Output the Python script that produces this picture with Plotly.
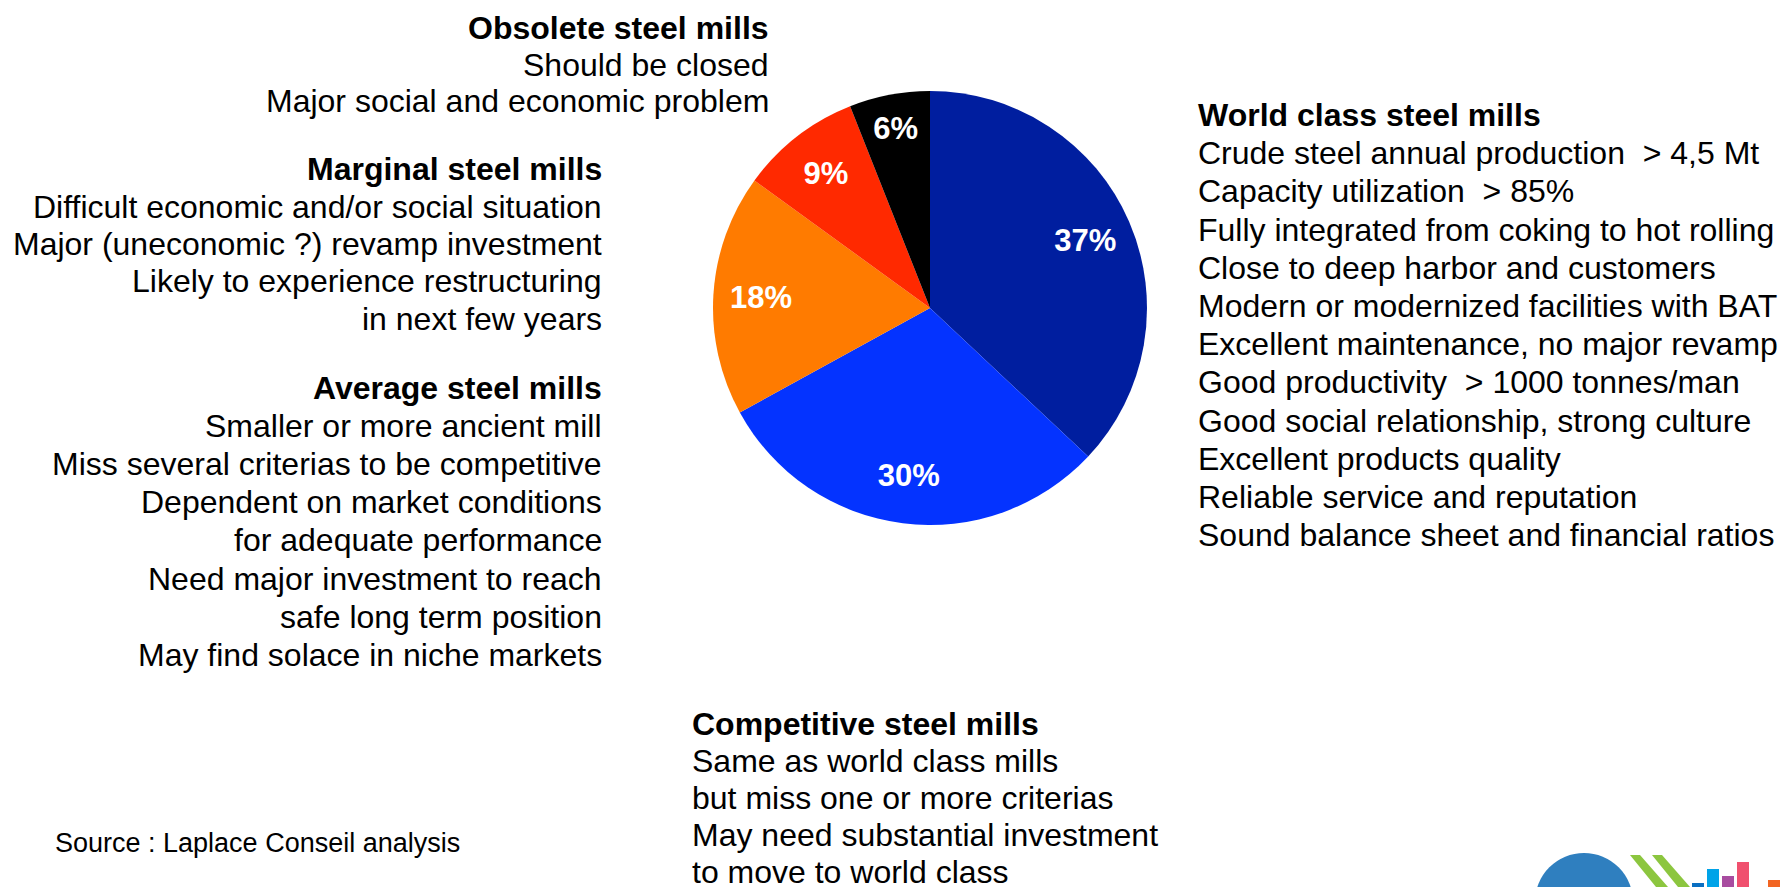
import plotly.graph_objects as go

# pie data (clockwise from 12 o'clock)
segments = ["World class", "Competitive", "Average", "Marginal", "Obsolete"]
shares = [37, 30, 18, 9, 6]
colors = ["#001E9F", "#0433FF", "#FF7B00", "#FF2900", "#000000"]

# text blocks next to the pie
obsolete_lines = ["<b>Obsolete steel mills</b>", "Should be closed",
                  "Major social and economic problem"]
marginal_lines = ["<b>Marginal steel mills</b>",
                  "Difficult economic and/or social situation",
                  "Major (uneconomic ?) revamp investment",
                  "Likely to experience restructuring",
                  "in next few years"]
average_lines = ["<b>Average steel mills</b>",
                 "Smaller or more ancient mill",
                 "Miss several criterias to be competitive",
                 "Dependent on market conditions",
                 "for adequate performance",
                 "Need major investment to reach",
                 "safe long term position",
                 "May find solace in niche markets"]
world_lines = ["<b>World class steel mills</b>",
               "Crude steel annual production  > 4,5 Mt",
               "Capacity utilization  > 85%",
               "Fully integrated from coking to hot rolling",
               "Close to deep harbor and customers",
               "Modern or modernized facilities with BAT",
               "Excellent maintenance, no major revamp",
               "Good productivity  > 1000 tonnes/man",
               "Good social relationship, strong culture",
               "Excellent products quality",
               "Reliable service and reputation",
               "Sound balance sheet and financial ratios"]
competitive_lines = ["<b>Competitive steel mills</b>",
                     "Same as world class mills",
                     "but miss one or more criterias",
                     "May need substantial investment",
                     "to move to world class"]
source_text = "Source : Laplace Conseil analysis"

W, H = 1780, 887
FONT = "Liberation Sans, Arial, sans-serif"


def px(x):
    return x / W


def py(y):
    return 1 - y / H


cx, cy, r = 930, 308, 217
pie_domain = dict(x=[px(cx - r), px(cx + r)], y=[py(cy + r), py(cy - r)])

fig = go.Figure()
# coloured slices
fig.add_trace(go.Pie(
    labels=segments, values=shares, sort=False, direction="clockwise",
    marker=dict(colors=colors, line=dict(width=0)),
    textinfo="none", hoverinfo="label+percent", showlegend=False,
    domain=pie_domain,
))
# same data as a transparent ring, so the labels sit out towards the rim
fig.add_trace(go.Pie(
    labels=segments, values=shares, sort=False, direction="clockwise",
    hole=0.56, marker=dict(colors=["rgba(0,0,0,0)"] * len(shares),
                           line=dict(width=0)),
    texttemplate="<b>%{value}%</b>", textposition="inside",
    insidetextorientation="horizontal",
    textfont=dict(family=FONT, size=31, color="white"),
    hoverinfo="skip", showlegend=False, domain=pie_domain,
))


def add_block(lines, x, y0, step, anchor, size=32):
    for i, line in enumerate(lines):
        fig.add_annotation(
            text=line, x=px(x), y=py(y0 + i * step),
            xref="paper", yref="paper", xanchor=anchor, yanchor="middle",
            showarrow=False, align=anchor,
            font=dict(family=FONT, size=size, color="black"))


add_block(obsolete_lines, 771, 28, 36.5, "right")
add_block(marginal_lines, 604, 169, 37.5, "right")
add_block(average_lines, 604, 388, 38.1, "right")
add_block(world_lines, 1196, 115, 38.2, "left")
add_block(competitive_lines, 690, 724, 37, "left")
add_block([source_text], 53, 843, 0, "left", size=27)

# partial logo in bottom right corner
fig.add_shape(type="circle", xref="paper", yref="paper",
              x0=px(1535), x1=px(1633), y0=py(951), y1=py(853),
              fillcolor="#2F7FBF", line=dict(width=0))
for dx in [0, 22]:
    fig.add_shape(type="path", xref="paper", yref="paper",
                  path=f"M {px(1630 + dx)} {py(855)} L {px(1640 + dx)} {py(855)} "
                       f"L {px(1668 + dx)} {py(887)} L {px(1656 + dx)} {py(887)} Z",
                  fillcolor="#8CC63F", line=dict(width=0))
for x0, top, c in [(1692, 883, "#0A6FC2"), (1707, 869, "#00A3E8"),
                   (1722, 876, "#A84CA0"), (1737, 862, "#F0506E"),
                   (1768, 880, "#F26522")]:
    fig.add_shape(type="rect", xref="paper", yref="paper",
                  x0=px(x0), x1=px(x0 + 12), y0=py(887), y1=py(top),
                  fillcolor=c, line=dict(width=0))

fig.update_layout(
    width=W, height=H, margin=dict(l=0, r=0, t=0, b=0),
    paper_bgcolor="white", plot_bgcolor="white",
    uniformtext=dict(minsize=31, mode="show"),
)

# drop the default 8px page margin so the figure fills the window exactly
fig.write_html("out.html", config={"displayModeBar": False},
               post_script="document.body.style.margin='0';"
                           "document.body.style.overflow='hidden';")
